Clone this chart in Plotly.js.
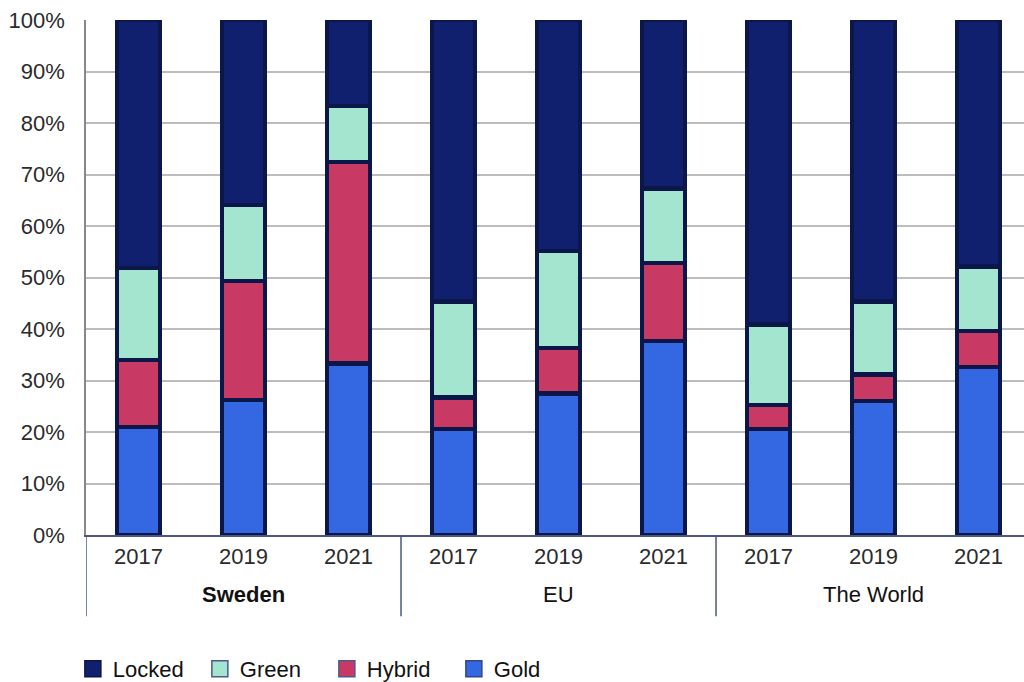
<!DOCTYPE html>
<html>
<head>
<meta charset="utf-8">
<script src="https://cdn.plot.ly/plotly-3.0.1.min.js"></script>
<style>
html,body{margin:0;padding:0;background:#fff;overflow:hidden;}
#chart{width:1024px;height:682px;}
</style>
</head>
<body>
<div id="chart"></div>
<script>
// Categories
const groups = ['<b>Sweden</b>', 'EU', 'The World'];
const years = ['2017', '2019', '2021'];

// Series values (percent), in bar order: Sweden 2017..2021, EU 2017..2021, World 2017..2021
const gold   = [21.0, 26.2, 33.3, 20.6, 27.5, 37.7, 20.6, 26.0, 32.6];
const hybrid = [13.0, 23.1, 39.1,  6.1,  8.8, 15.1,  4.6,  5.2,  7.0];
const green  = [17.8, 14.8, 10.9, 18.6, 18.8, 14.5, 15.7, 14.1, 12.5];
const locked = [48.2, 35.9, 16.7, 54.7, 44.9, 32.7, 59.1, 54.7, 47.9];

const seriesNames = ['Gold', 'Hybrid', 'Green', 'Locked'];
const seriesValues = [gold, hybrid, green, locked];
const seriesColors = ['#3467e2', '#c83a64', '#a4e5cf', '#10206e'];
const legendBorder = ['#34458a', '#4a5a8a', '#4a5a8a', '#0a1648'];

const xPos = [];
const tickText = [];
groups.forEach((g, gi) => years.forEach((y, yi) => { xPos.push(gi * years.length + yi); tickText.push(y); }));

const traces = [];
seriesNames.forEach((name, i) => {
  traces.push({
    type: 'bar', name: name, x: xPos, y: seriesValues[i],
    width: 0.41,
    marker: {color: seriesColors[i], line: {color: '#0a1748', width: 4.5}},
    showlegend: false, legendgroup: name, hoverinfo: 'name+y'
  });
});
// legend entries
seriesNames.forEach((name, i) => {
  traces.push({
    type: 'scatter', mode: 'markers', name: name, x: [null], y: [null],
    marker: {symbol: 'square', size: 19, color: seriesColors[i], line: {color: legendBorder[i], width: 1.5}},
    legendgroup: name, showlegend: true
  });
});

const fontFam = '"Liberation Sans", Arial, sans-serif';
const annotations = groups.map((g, gi) => ({
  xref: 'x', yref: 'paper', x: gi * years.length + (years.length - 1) / 2, y: -0.115,
  text: g, showarrow: false, xanchor: 'center', yanchor: 'middle',
  font: {family: fontFam, size: 22, color: '#111'}
}));
const shapes = groups.map((g, gi) => ({
  type: 'line', xref: 'x', yref: 'paper', x0: gi * years.length - 0.5, x1: gi * years.length - 0.5,
  y0: 0, y1: -0.158, line: {color: '#4a5785', width: 1.5}
}));

const layout = {
  width: 1024, height: 682,
  margin: {l: 86, r: 0, t: 20, b: 147},
  paper_bgcolor: '#fff', plot_bgcolor: '#fff',
  barmode: 'stack',
  font: {family: fontFam, size: 22, color: '#2b2b2b'},
  xaxis: {
    range: [-0.5, 8.433], tickmode: 'array', tickvals: xPos, ticktext: tickText,
    showgrid: false, zeroline: false, showline: true, linecolor: '#4a5785', linewidth: 1.5,
    ticks: '', ticklabelstandoff: 1, tickfont: {family: fontFam, size: 22, color: '#2b2b2b'},
    fixedrange: true, automargin: false
  },
  yaxis: {
    range: [0, 100], dtick: 10, ticksuffix: '%', showgrid: true, gridcolor: '#bdbdbd', gridwidth: 1.5,
    zeroline: false, showline: true, linecolor: '#888', linewidth: 1.5,
    ticks: '', ticklabelstandoff: 15, tickfont: {family: fontFam, size: 22, color: '#2b2b2b'},
    fixedrange: true, automargin: false
  },
  legend: {
    orientation: 'h', x: -0.014, xanchor: 'left', xref: 'paper',
    y: 0.019, yanchor: 'middle', yref: 'container',
    traceorder: 'reversed', font: {family: fontFam, size: 22, color: '#111'},
    entrywidth: 82, itemclick: false, itemdoubleclick: false
  },
  annotations: annotations,
  shapes: shapes,
  showlegend: true
};

Plotly.newPlot('chart', traces, layout, {displayModeBar: false});
</script>
</body>
</html>
